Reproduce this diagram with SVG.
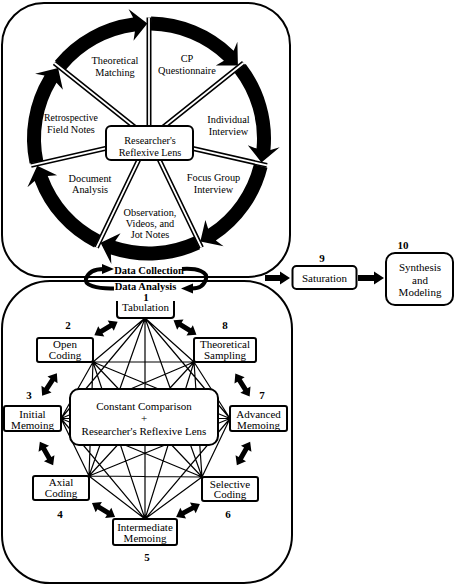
<svg xmlns="http://www.w3.org/2000/svg" xmlns:xlink="http://www.w3.org/1999/xlink" width="454" height="587" viewBox="0 0 454 587">
<style>
text { font-family: "Liberation Serif", "Times New Roman", serif; fill: #000; text-anchor: middle; }
.s { font-size: 10.3px; }
.m { font-size: 11px; }
.n { font-size: 11px; font-weight: bold; }
.dl { font-size: 10.5px; font-weight: bold; }
.frame { fill: none; stroke: #000; stroke-width: 2; }
.box { fill: #fff; stroke: #000; stroke-width: 2; }
.arc { fill: #000; stroke: none; }
.spokeO { stroke: #000; stroke-width: 5; fill: none; }
.spokeI { stroke: #fff; stroke-width: 1.8; fill: none; }
.edge { stroke: #000; stroke-width: 1.2; fill: none; }
.loop { stroke: #000; stroke-width: 4; fill: none; }
.fillb { fill: #000; }
</style>
<defs>
<path id="dbl" d="M-13.5,0 L-5.5,-6 L-5.5,-2.5 L5.5,-2.5 L5.5,-6 L13.5,0 L5.5,6 L5.5,2.5 L-5.5,2.5 L-5.5,6 Z" fill="#000"/>
</defs>

<!-- frames -->
<g id="frames">
<rect class="frame" x="2" y="3" width="288" height="274" rx="42"/>
<rect class="frame" x="2" y="281" width="290" height="302" rx="48"/>
</g>

<!-- top cycle arrows -->
<g id="cycle-arrows">
<path class="arc" d="M151.13,16.52 A122,122 0 0 1 233.64,50.64 L237.39,41.81 L237.91,65.54 L215.80,65.43 L223.93,60.72 A108,108 0 0 0 150.88,30.52 Z"/>
<path class="arc" d="M245.70,64.10 A122,122 0 0 1 270.47,149.89 L279.70,147.32 L261.46,162.53 L247.78,145.16 L256.53,148.59 A108,108 0 0 0 234.60,72.64 Z"/>
<path class="arc" d="M267.45,167.73 A122,122 0 0 1 215.83,240.57 L223.60,246.18 L200.33,241.41 L205.38,219.88 L208.16,228.86 A108,108 0 0 0 253.86,164.37 Z"/>
<path class="arc" d="M200.00,249.33 A122,122 0 0 1 110.87,254.39 L111.33,263.97 L100.56,242.80 L120.53,233.32 L115.25,241.09 A108,108 0 0 0 194.15,236.61 Z"/>
<path class="arc" d="M94.16,247.48 A122,122 0 0 1 34.62,180.95 L27.42,187.27 L37.25,165.66 L57.12,175.36 L47.75,176.08 A108,108 0 0 0 100.46,234.98 Z"/>
<path class="arc" d="M29.60,163.57 A122,122 0 0 1 44.50,75.54 L35.08,73.85 L58.08,68.08 L62.90,89.64 L56.49,82.77 A108,108 0 0 0 43.30,160.70 Z"/>
<path class="arc" d="M54.98,60.75 A122,122 0 0 1 133.08,17.54 L128.51,9.11 L147.39,23.51 L133.51,40.72 L134.90,31.42 A108,108 0 0 0 65.77,69.67 Z"/>
</g>

<!-- spokes -->
<g id="spokes">
<path class="spokeO" d="M149,138.5 L149,17.5 M149,138.5 L243.6,63.06 M149,138.5 L266.97,165.42 M149,138.5 L201.5,247.52 M149,138.5 L96.5,247.52 M149,138.5 L31.03,165.42 M149,138.5 L54.4,63.06"/>
<path class="spokeI" d="M149,138.5 L149,17.5 M149,138.5 L243.6,63.06 M149,138.5 L266.97,165.42 M149,138.5 L201.5,247.52 M149,138.5 L96.5,247.52 M149,138.5 L31.03,165.42 M149,138.5 L54.4,63.06"/>
</g>

<g id="lens-top">
<rect class="box" x="106" y="126" width="87" height="34" rx="5"/>
<text class="s" x="150" y="143.7">Researcher's</text>
<text class="s" x="150" y="155.7">Reflexive Lens</text>
</g>

<g id="sector-labels">
<text class="s" x="115" y="64">Theoretical</text>
<text class="s" x="115" y="75.7">Matching</text>
<text class="s" x="187" y="62">CP</text>
<text class="s" x="187" y="74">Questionnaire</text>
<text class="s" x="228.5" y="123">Individual</text>
<text class="s" x="228.5" y="135">Interview</text>
<text class="s" x="213.5" y="181">Focus Group</text>
<text class="s" x="213.5" y="193">Interview</text>
<text class="s" x="150" y="215.5">Observation,</text>
<text class="s" x="150" y="227">Videos, and</text>
<text class="s" x="150" y="238.3">Jot Notes</text>
<text class="s" x="90" y="182">Document</text>
<text class="s" x="90" y="193">Analysis</text>
<text class="s" x="71" y="121" style="font-size:9.8px">Retrospective</text>
<text class="s" x="71" y="133">Field Notes</text>
</g>

<!-- data collection / analysis loop -->
<g id="loop">
<path class="loop" d="M114,288.5 C96,289 84,285 86,279 C88,272 95,269 104,269"/>
<polygon class="fillb" points="102,264 114,269 102,274"/>
<path class="loop" d="M182,269 C198,268 208,272 206,279 C204,286 198,288.5 192,288.5"/>
<polygon class="fillb" points="193,283.5 181,288.5 193,293.5"/>
<text class="dl" x="149" y="274">Data Collection</text>
<text class="dl" x="145.5" y="289.5">Data Analysis</text>
</g>

<!-- complete graph edges in analysis cycle -->
<g id="connectors">
<path class="edge" d="
M145,318 L93,362 M145,318 L194,362 M145,318 L61,418.5 M145,318 L230,418.5 M145,318 L89,476 M145,318 L202,477 M145,318 L145,519
M93,362 L194,362 M93,362 L61,418.5 M93,362 L230,418.5 M93,362 L89,476 M93,362 L202,477 M93,362 L145,519
M194,362 L61,418.5 M194,362 L230,418.5 M194,362 L89,476 M194,362 L202,477 M194,362 L145,519
M61,418.5 L230,418.5 M61,418.5 L89,476 M61,418.5 L202,477 M61,418.5 L145,519
M230,418.5 L89,476 M230,418.5 L202,477 M230,418.5 L145,519
M89,476 L202,477 M89,476 L145,519
M202,477 L145,519"/>
<!-- thick double arrows -->
<use xlink:href="#dbl" href="#dbl" transform="translate(106,328.5) rotate(-30.6)"/>
<use xlink:href="#dbl" href="#dbl" transform="translate(185,327.5) rotate(32)"/>
<use xlink:href="#dbl" href="#dbl" transform="translate(49.5,384.5) rotate(123.1)"/>
<use xlink:href="#dbl" href="#dbl" transform="translate(242.5,385) rotate(58)"/>
<use xlink:href="#dbl" href="#dbl" transform="translate(46.5,453.5) rotate(60.5)"/>
<use xlink:href="#dbl" href="#dbl" transform="translate(243.5,453.5) rotate(119.5)"/>
<use xlink:href="#dbl" href="#dbl" transform="translate(103.5,510) rotate(31.3)"/>
<use xlink:href="#dbl" href="#dbl" transform="translate(188,510.5) rotate(-28.4)"/>
<!-- arrows to saturation / synthesis -->
<path class="fillb" d="M265,275 L280,275 L280,271.5 L290,278 L280,284.5 L280,281 L265,281 Z"/>
<path class="fillb" d="M358,275 L374,275 L374,271.5 L384,278 L374,284.5 L374,281 L358,281 Z"/>
</g>

<g id="center">
<rect class="box" x="70" y="389" width="148" height="56" rx="9"/>
<text class="m" x="144" y="409.5">Constant Comparison</text>
<text class="m" x="144" y="422">+</text>
<text class="m" x="144" y="434.5">Researcher's Reflexive Lens</text>
</g>

<g id="tabulation">
<path class="box" d="M117,301 L117,315 Q117,318 120,318 L171,318 Q174,318 174,315 L174,301"/>
<text class="m" x="145.5" y="311">Tabulation</text>
<text class="n" x="146" y="300.5">1</text>
</g>

<g id="open-coding">
<rect class="box" x="37" y="338" width="56" height="24" rx="2"/>
<text class="m" x="65" y="348">Open</text>
<text class="m" x="65" y="359">Coding</text>
<text class="n" x="68" y="329">2</text>
</g>

<g id="initial-memoing">
<rect class="box" x="4" y="406" width="57" height="25" rx="2"/>
<text class="m" x="32.5" y="417.5">Initial</text>
<text class="m" x="32.5" y="428.5">Memoing</text>
<text class="n" x="29" y="399">3</text>
</g>

<g id="axial-coding">
<rect class="box" x="33" y="476" width="56" height="24" rx="2"/>
<text class="m" x="61" y="486">Axial</text>
<text class="m" x="61" y="497">Coding</text>
<text class="n" x="60" y="518">4</text>
</g>

<g id="intermediate-memoing">
<rect class="box" x="113" y="519" width="64" height="26" rx="2"/>
<text class="m" x="145" y="531">Intermediate</text>
<text class="m" x="145" y="541.5">Memoing</text>
<text class="n" x="147" y="561">5</text>
</g>

<g id="selective-coding">
<rect class="box" x="202" y="477" width="56" height="24" rx="2"/>
<text class="m" x="230" y="487.5">Selective</text>
<text class="m" x="230" y="498">Coding</text>
<text class="n" x="228" y="518">6</text>
</g>

<g id="advanced-memoing">
<rect class="box" x="230" y="406" width="57" height="25" rx="2"/>
<text class="m" x="258.5" y="417.5">Advanced</text>
<text class="m" x="258.5" y="428.5">Memoing</text>
<text class="n" x="262" y="399">7</text>
</g>

<g id="theoretical-sampling">
<rect class="box" x="194" y="338" width="62" height="24" rx="2"/>
<text class="m" x="225" y="348">Theoretical</text>
<text class="m" x="225" y="359">Sampling</text>
<text class="n" x="225" y="329">8</text>
</g>

<g id="saturation">
<rect class="box" x="292.5" y="266" width="64" height="23" rx="4"/>
<text class="m" x="324.5" y="282">Saturation</text>
<text class="n" x="322" y="262">9</text>
</g>

<g id="synthesis">
<rect class="box" x="386" y="253" width="67" height="52" rx="9"/>
<text class="m" x="420" y="271">Synthesis</text>
<text class="m" x="420" y="283.5">and</text>
<text class="m" x="420" y="296">Modeling</text>
<text class="n" x="403" y="249">10</text>
</g>
</svg>
